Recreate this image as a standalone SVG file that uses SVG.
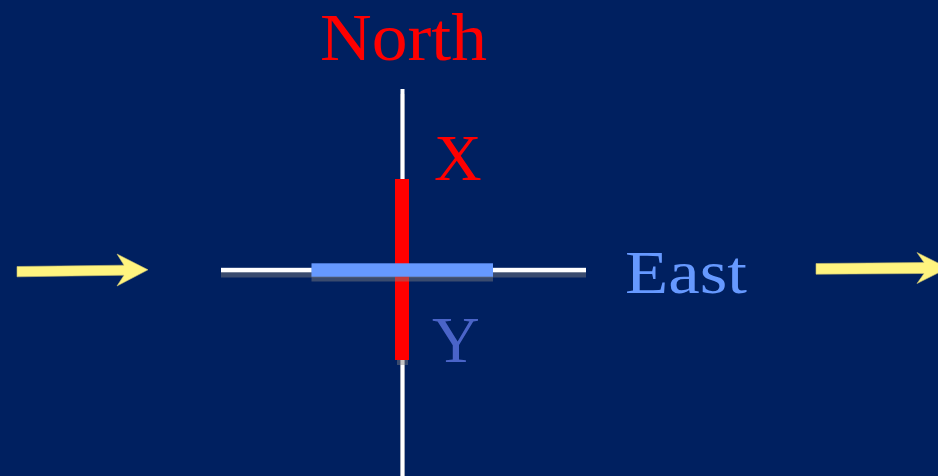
<svg xmlns="http://www.w3.org/2000/svg" width="938" height="476" viewBox="0 0 938 476">
  <style>
    .lbl { font-family: "Liberation Serif", "Times New Roman", serif; }
    .shadow { fill: #808080; fill-opacity: 0.45; }
    .arrow { fill: #fff47f; stroke: #c8c070; stroke-width: 0.6; }
  </style>
  <rect x="0" y="0" width="938" height="476" fill="#002060"/>

  <g id="connectors">
    <path class="arrow" d="M17,266.5 L124,265.2 L117,254 L148,269.8 L117,286 L124,275.2 L17,276.8 Z"/>
    <path class="arrow" d="M816,263.5 L924,262.5 L917,252.5 L948,268 L917,283.5 L924,273.5 L816,274.2 Z"/>
  </g>

  <g id="axis-vertical">
    <rect class="shadow" x="400" y="94" width="5" height="382"/>
    <rect x="400.5" y="89" width="4" height="387" fill="#ffffff"/>
  </g>
  <g id="axis-horizontal">
    <rect class="shadow" x="221" y="272" width="365" height="5.5"/>
    <rect x="221" y="267.8" width="365" height="4.5" fill="#ffffff"/>
  </g>
  <g id="bar-x">
    <rect class="shadow" x="397" y="184" width="11" height="181"/>
    <rect x="395" y="179" width="14" height="181" fill="#ff0000"/>
  </g>
  <g id="bar-y">
    <rect class="shadow" x="311.5" y="268" width="181.5" height="13.5"/>
    <rect x="311.5" y="263.3" width="181.5" height="13.4" fill="#6699ff"/>
  </g>

  <g id="label-north">
    <text class="lbl" x="320" y="60" font-size="68" fill="#ff0000" textLength="167" lengthAdjust="spacingAndGlyphs">North</text>
  </g>
  <g id="label-x">
    <text class="lbl" x="434" y="180" font-size="66" fill="#ff0000">X</text>
  </g>
  <g id="label-y">
    <text class="lbl" x="432" y="362" font-size="66" fill="#4a64c8">Y</text>
  </g>
  <g id="label-east">
    <text class="lbl" x="625" y="293" font-size="62" fill="#6699ff" textLength="122" lengthAdjust="spacingAndGlyphs">East</text>
  </g>
</svg>
